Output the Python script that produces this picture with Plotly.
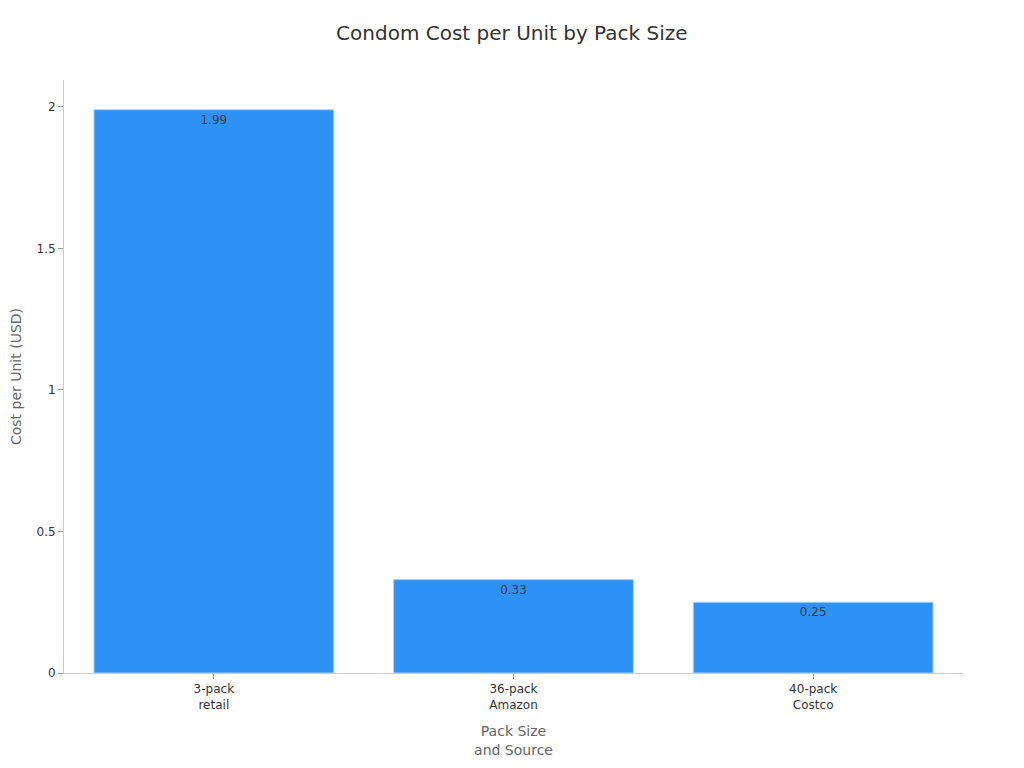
import plotly.graph_objects as go

# data
pack_labels = ["3-pack<br>retail", "36-pack<br>Amazon", "40-pack<br>Costco"]
cost_per_unit = [1.99, 0.33, 0.25]
value_labels = ["1.99", "0.33", "0.25"]

fig = go.Figure()

fig.add_trace(go.Bar(
    x=pack_labels,
    y=cost_per_unit,
    text=value_labels,
    textposition="inside",
    insidetextanchor="end",
    textfont=dict(color="#3a3a3a", size=12),
    marker=dict(color="#2E91F6", line=dict(color="#A9D0F8", width=1)),
    width=0.8,
    showlegend=False,
))

# margins offset by the page's 8px body margin
fig.update_layout(
    width=1024,
    height=768,
    title=dict(text="Condom Cost per Unit by Pack Size", x=0.492, xanchor="center",
               y=0.9674, yanchor="middle", font=dict(size=20, color="#333333")),
    font=dict(family="DejaVu Sans", size=12, color="#333333"),
    paper_bgcolor="white",
    plot_bgcolor="white",
    margin=dict(l=56, r=69, t=72, b=103, autoexpand=False),
    xaxis=dict(
        title=dict(text="Pack Size<br>and Source", font=dict(size=14, color="#666666")),
        showline=True, linecolor="#CCCCCC", linewidth=1,
        ticks="outside", tickcolor="#999999", ticklen=5,
        showgrid=False, automargin=False,
    ),
    yaxis=dict(
        title=dict(text="Cost per Unit (USD)", font=dict(size=14, color="#666666")),
        range=[0, 2.095],
        tickvals=[0, 0.5, 1, 1.5, 2],
        ticktext=["0", "0.5", "1", "1.5", "2"],
        showline=True, linecolor="#CCCCCC", linewidth=1,
        ticks="outside", tickcolor="#999999", ticklen=5,
        showgrid=False, zeroline=False, automargin=False,
    ),
)

fig.write_html("out.html")
